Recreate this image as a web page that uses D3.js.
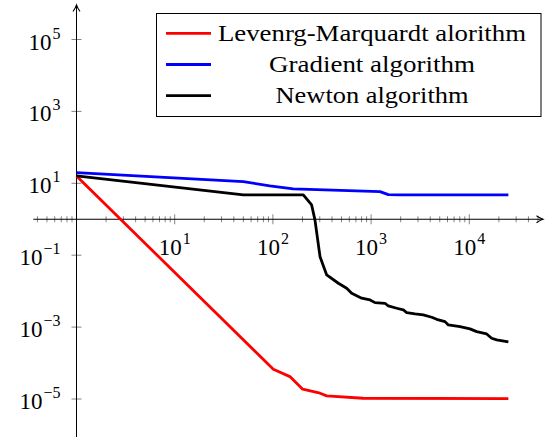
<!DOCTYPE html>
<html><head><meta charset="utf-8">
<script src="https://cdn.jsdelivr.net/npm/d3@7"></script>
<style>body{margin:0;background:#fff}svg{display:block}text{fill:#000}</style>
</head><body><svg id="c" width="545" height="437" font-family="Liberation Serif"></svg>
<script>
const seriesNames = ["Levenrg-Marquardt alorithm", "Gradient algorithm", "Newton algorithm"];
const seriesColors = ["#ff0000", "#0000ff", "#000000"];
const lmX = [1, 101, 149, 201, 302, 353, 827, 25000];
const lmY = [16, 6.7e-5, 4.2e-5, 1.87e-5, 1.45e-5, 1.22e-5, 1.05e-5, 1.02e-5];
const gradX = [1, 50, 93, 161, 1232, 1497, 1968, 25000];
const gradY = [19.8, 11.1, 8.5, 7.0, 5.86, 4.83, 4.74, 4.74];
const newtonX = [1, 50, 204, 248, 268, 302, 353, 464, 564, 634, 802, 975, 1096, 1386, 1497, 1823, 2128, 2305, 2800, 3402, 4143, 4656, 5660, 6115, 8040, 10160, 11890, 15030, 16900, 19000, 25000];
const newtonY = [16, 4.74, 4.74, 2.5, 0.96, 0.091, 0.0282, 0.0166, 0.0121, 0.00875, 0.00635, 0.00569, 0.00479, 0.0046, 0.00387, 0.00334, 0.0030, 0.00252, 0.00232, 0.00218, 0.00188, 0.00165, 0.00142, 0.00115, 0.00103, 0.00089, 0.000747, 0.000645, 0.00049, 0.00044, 0.00039];
const xTickExps = [1, 2, 3, 4];
const yTickExps = [5, 3, 1, -1, -3, -5];

const svg = d3.select("#c");
const x = d3.scaleLog().domain([1, 1e4]).range([76.5, 469.3]);
const y = d3.scaleLog().domain([1e-5, 1e5]).range([399, 39.5]);
const x0 = x(1), y0 = y(1);
const xMin = 10 ** -0.44, xMax = 10 ** 4.75;

// minor x ticks
const minor = [];
for (let e = -1; e <= 4; e++) for (let k = 2; k <= 9; k++) { const v = k * 10 ** e; if (v > xMin && v < xMax) minor.push(v); }
svg.append("g").selectAll("line").data(minor).join("line")
  .attr("x1", d => x(d)).attr("x2", d => x(d)).attr("y1", y0 - 3).attr("y2", y0 + 3)
  .attr("stroke", "#777").attr("stroke-width", 0.9);
// major x ticks
svg.append("g").selectAll("line").data(xTickExps).join("line")
  .attr("x1", d => x(10 ** d)).attr("x2", d => x(10 ** d)).attr("y1", y0 - 5).attr("y2", y0 + 5)
  .attr("stroke", "#777").attr("stroke-width", 0.9);
// major y ticks
svg.append("g").selectAll("line").data(yTickExps).join("line")
  .attr("y1", d => y(10 ** d)).attr("y2", d => y(10 ** d)).attr("x1", x0 - 5).attr("x2", x0 + 5)
  .attr("stroke", "#777").attr("stroke-width", 0.9);

// axis lines
svg.append("line").attr("x1", x(xMin)).attr("x2", 543).attr("y1", y0).attr("y2", y0).attr("stroke", "#000").attr("stroke-width", 1);
svg.append("line").attr("x1", x0).attr("x2", x0).attr("y1", 5).attr("y2", 437).attr("stroke", "#000").attr("stroke-width", 1);
svg.append("path").attr("d", `M${x0 - 3.5},${11.5} Q${x0 - 1},${8} ${x0},${5} Q${x0 + 1},${8} ${x0 + 3.5},${11.5}`)
  .attr("fill", "none").attr("stroke", "#000").attr("stroke-width", 1.1);
svg.append("path").attr("d", `M${536.5},${y0 - 3.5} Q${540},${y0 - 1} ${543},${y0} Q${540},${y0 + 1} ${536.5},${y0 + 3.5}`)
  .attr("fill", "none").attr("stroke", "#000").attr("stroke-width", 1.1);

// tick labels
function expLabel(g, e) {
  g.append("tspan").text("10").attr("font-size", 23);
  g.append("tspan").text(e < 0 ? "\u2212" + (-e) : String(e)).attr("font-size", 16).attr("dy", -11).attr("dx", 1);
}
xTickExps.forEach(e => {
  const t = svg.append("text").attr("x", x(10 ** e)).attr("y", 255).attr("text-anchor", "middle");
  expLabel(t, e);
});
yTickExps.forEach(e => {
  const t = svg.append("text").attr("x", 60.5).attr("y", y(10 ** e) + 10).attr("text-anchor", "end");
  expLabel(t, e);
});

// series
const series = [[lmX, lmY], [gradX, gradY], [newtonX, newtonY]];
const line = d3.line().x(d => x(d[0])).y(d => y(d[1]));
series.forEach((s, i) => {
  const pts = s[0].map((v, j) => [v, s[1][j]]);
  svg.append("path").attr("d", line(pts)).attr("fill", "none").attr("stroke", seriesColors[i])
    .attr("stroke-width", 2.8).attr("stroke-linejoin", "round").attr("stroke-linecap", "butt");
});

// legend
svg.append("rect").attr("x", 156.5).attr("y", 13.5).attr("width", 384.5).attr("height", 103)
  .attr("fill", "#fff").attr("stroke", "#000").attr("stroke-width", 1);
const rowY = [33.3, 64.5, 95.7];
const textW = [308, 206, 193];
seriesNames.forEach((n, i) => {
  svg.append("line").attr("x1", 166).attr("x2", 211).attr("y1", rowY[i]).attr("y2", rowY[i])
    .attr("stroke", seriesColors[i]).attr("stroke-width", 2.8);
  svg.append("text").attr("x", 372 - textW[i] / 2).attr("y", rowY[i] + 7.5).attr("font-size", 23)
    .attr("textLength", textW[i]).attr("lengthAdjust", "spacingAndGlyphs").text(n);
});
</script></body></html>
